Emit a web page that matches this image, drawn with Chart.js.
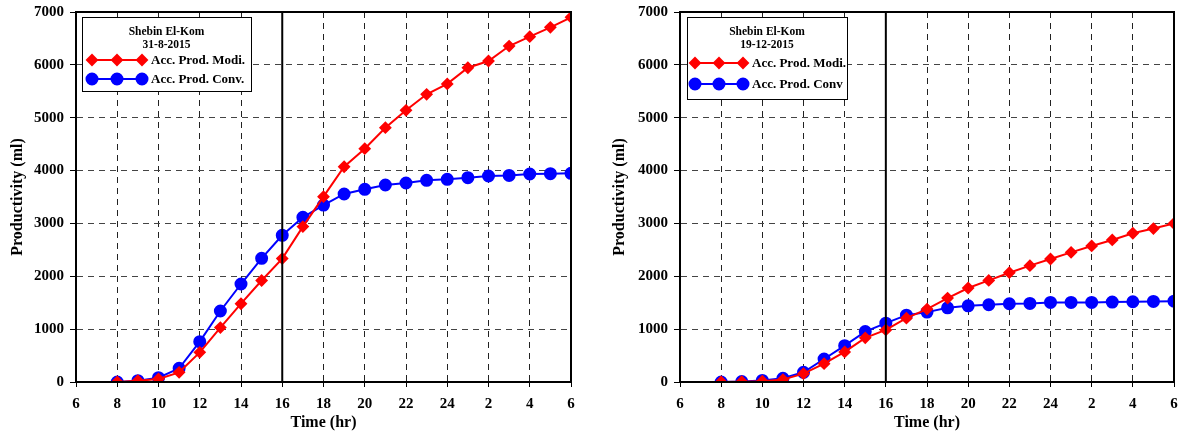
<!DOCTYPE html>
<html lang="en">
<head>
<meta charset="UTF-8">
<title>Shebin El-Kom productivity</title>
<script src="https://cdn.jsdelivr.net/npm/chart.js"></script>
<style>
  body { margin: 0; background: #fff; }
  .wrap { display: flex; width: 1182px; height: 439px; }
  .box { position: relative; width: 591px; height: 439px; }
</style>
</head>
<body>
<div class="wrap">
  <div class="box"><canvas id="c1"></canvas></div>
  <div class="box"><canvas id="c2"></canvas></div>
</div>
<script>
// hours of the day, 25..30 = 1..6 next morning
const hours = [8, 9, 10, 11, 12, 13, 14, 15, 16, 17, 18, 19, 20, 21, 22, 23, 24, 25, 26, 27, 28, 29, 30];
const xTicks = ['6', '8', '10', '12', '14', '16', '18', '20', '22', '24', '2', '4', '6'];

// 31-8-2015
const modiAug = [0, 25, 57, 183, 561, 1030, 1481, 1920, 2335, 2940, 3506, 4073, 4414, 4811, 5140, 5443, 5640, 5946, 6073, 6356, 6533, 6710, 6900];
const convAug = [0, 25, 81, 259, 763, 1343, 1854, 2340, 2775, 3115, 3348, 3557, 3645, 3727, 3765, 3816, 3834, 3865, 3897, 3909, 3935, 3941, 3948];

// 19-12-2015
const modiDec = [0, 5, 15, 45, 158, 347, 569, 835, 986, 1208, 1379, 1588, 1778, 1922, 2068, 2201, 2327, 2453, 2574, 2688, 2814, 2903, 2998];
const convDec = [0, 10, 30, 70, 183, 435, 688, 954, 1113, 1265, 1322, 1404, 1442, 1461, 1480, 1486, 1505, 1505, 1505, 1512, 1518, 1524, 1530];

const FONT = "'Liberation Serif', 'Times New Roman', serif";

function pts(ys) {
  return hours.map((h, i) => ({ x: h, y: ys[i] }));
}

// frame, solid line at 16 h and the boxed legend
const framePlugin = {
  id: 'frame',
  afterDatasetsDraw(chart) {
    const ctx = chart.ctx;
    const a = chart.chartArea;
    const xs = chart.scales.x;
    ctx.save();
    ctx.strokeStyle = '#000';
    ctx.lineWidth = 2;
    const x16 = xs.getPixelForValue(16);
    ctx.beginPath();
    ctx.moveTo(x16, a.top);
    ctx.lineTo(x16, a.bottom);
    ctx.stroke();
    ctx.strokeRect(a.left, a.top, a.right - a.left, a.bottom - a.top);
    ctx.restore();

    const lg = chart.options.plugins.frame;
    const bx = a.left + lg.dx, by = a.top + lg.dy;
    ctx.save();
    ctx.fillStyle = '#fff';
    ctx.fillRect(bx, by, lg.w, lg.h);
    ctx.strokeStyle = '#000';
    ctx.lineWidth = 1;
    ctx.strokeRect(bx + 0.5, by + 0.5, lg.w, lg.h);
    ctx.fillStyle = '#000';
    ctx.textAlign = 'center';
    ctx.textBaseline = 'middle';
    ctx.font = 'bold 11.5px ' + FONT;
    ctx.fillText('Shebin El-Kom', bx + lg.w / 2, by + 15);
    ctx.fillText(lg.date, bx + lg.w / 2, by + 28);
    chart.data.datasets.forEach((ds, i) => {
      const y = by + lg.row1 + i * lg.gap;
      const x0 = bx + lg.mx;
      ctx.strokeStyle = ds.borderColor;
      ctx.fillStyle = ds.backgroundColor;
      ctx.lineWidth = 2;
      ctx.beginPath();
      ctx.moveTo(x0, y);
      ctx.lineTo(x0 + 2 * lg.step, y);
      ctx.stroke();
      for (let k = 0; k < 3; k++) {
        Chart.helpers.drawPoint(ctx, {
          pointStyle: ds.pointStyle,
          radius: ds.pointRadius,
          borderWidth: 1
        }, x0 + k * lg.step, y);
      }
      ctx.fillStyle = '#000';
      ctx.textAlign = 'left';
      ctx.font = 'bold 13px ' + FONT;
      ctx.fillText(ds.label, x0 + 2 * lg.step + 9, y + 1);
    });
    ctx.restore();
  }
};

function makeChart(id, modi, conv, convLabel, legend, padLeft, padRight, yWidth) {
  const ctx = document.getElementById(id).getContext('2d');
  return new Chart(ctx, {
    type: 'line',
    data: {
      datasets: [
        {
          label: 'Acc. Prod. Modi.',
          data: pts(modi),
          borderColor: '#ff0000',
          backgroundColor: '#ff0000',
          pointStyle: 'rectRot',
          pointRadius: 5,
          borderWidth: 2
        },
        {
          label: convLabel,
          data: pts(conv),
          borderColor: '#0000ff',
          backgroundColor: '#0000ff',
          pointStyle: 'circle',
          pointRadius: 5.5,
          borderWidth: 2
        }
      ]
    },
    options: {
      responsive: false,
      animation: false,
      layout: { padding: { left: padLeft, right: padRight, top: 12, bottom: 0 } },
      scales: {
        x: {
          type: 'linear',
          min: 6,
          max: 30,
          afterFit: (s) => { s.height = 57; s.paddingLeft = 0; s.paddingRight = 0; },
          ticks: {
            stepSize: 2,
            color: '#000',
            font: { family: FONT, size: 15, weight: 'bold' },
            padding: 8,
            callback: (v, i) => xTicks[i]
          },
          grid: {
            color: (c) => (c.tick && (c.tick.value === 6 || c.tick.value === 30 || c.tick.value === 16)) ? 'rgba(0,0,0,0)' : '#222',
            lineWidth: 1,
            tickColor: '#000',
            tickLength: 5,
            tickBorderDash: []
          },
          border: { color: '#000', width: 2, dash: [6, 5] },
          title: {
            display: true,
            text: 'Time (hr)',
            color: '#000',
            font: { family: FONT, size: 16, weight: 'bold' },
            padding: { top: 0, bottom: 7 }
          }
        },
        y: {
          min: 0,
          max: 7000,
          afterFit: (s) => { s.width = yWidth; s.paddingTop = 0; s.paddingBottom = 0; },
          ticks: {
            stepSize: 1000,
            color: '#000',
            font: { family: FONT, size: 15, weight: 'bold' },
            padding: 6,
            callback: (v) => String(v)
          },
          grid: {
            color: (c) => (c.tick && (c.tick.value === 0 || c.tick.value === 7000)) ? 'rgba(0,0,0,0)' : '#444',
            lineWidth: 1,
            tickColor: '#000',
            tickLength: 6,
            tickBorderDash: []
          },
          border: { color: '#000', width: 2, dash: [6, 5] },
          title: {
            display: true,
            text: 'Productivity (ml)',
            color: '#000',
            font: { family: FONT, size: 16, weight: 'bold' },
            padding: { top: 0, bottom: 0 }
          }
        }
      },
      plugins: {
        legend: { display: false },
        tooltip: { enabled: false },
        frame: legend
      }
    },
    plugins: [framePlugin]
  });
}

document.getElementById('c1').width = 591;
document.getElementById('c1').height = 439;
document.getElementById('c2').width = 591;
document.getElementById('c2').height = 439;

makeChart('c1', modiAug, convAug, 'Acc. Prod. Conv.',
  { date: '31-8-2015', dx: 6, dy: 5, w: 169, h: 74, row1: 43, gap: 19, mx: 10, step: 25 }, 8, 20, 68);
makeChart('c2', modiDec, convDec, 'Acc. Prod. Conv',
  { date: '19-12-2015', dx: 7, dy: 5, w: 160, h: 82, row1: 46, gap: 21, mx: 8, step: 24 }, 19, 8, 70);
</script>
</body>
</html>
